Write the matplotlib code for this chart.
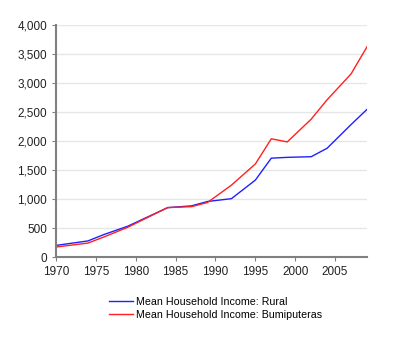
import matplotlib
matplotlib.use('Agg')
import matplotlib.pyplot as plt
from matplotlib.ticker import FuncFormatter

plt.rcParams['font.family'] = ['Liberation Sans', 'DejaVu Sans']

years = [1970, 1974, 1976, 1979, 1984, 1987, 1989, 1992, 1995, 1997, 1999, 2002, 2004, 2007, 2009]
rural = [200, 277, 387, 531, 851, 882, 957, 1006, 1326, 1704, 1718, 1729, 1875, 2283, 2545]
bumi = [172, 240, 345, 513, 852, 868, 940, 1239, 1604, 2038, 1984, 2376, 2711, 3156, 3624]

fig = plt.figure(figsize=(4, 3.42), dpi=100)
ax = fig.add_axes([0.14, 0.2485, 0.7775, 0.6785])

ax.plot(years, rural, color='#2020ff', lw=1, label='Mean Household Income: Rural')
ax.plot(years, bumi, color='#ff2020', lw=1, label='Mean Household Income: Bumiputeras')

ax.set_xlim(1970, 2009)
ax.set_ylim(0, 4000)
ax.set_xticks(range(1970, 2009, 5))
ax.set_yticks(range(0, 4001, 500))
ax.yaxis.set_major_formatter(FuncFormatter(lambda v, p: f'{int(v):,}'))
ax.grid(axis='y', color='#e6e6e6', lw=1)
ax.set_axisbelow(True)
for s in ['top', 'right']:
    ax.spines[s].set_visible(False)
for s in ['left', 'bottom']:
    ax.spines[s].set_color('#808080')
    ax.spines[s].set_linewidth(1.5)
ax.tick_params(labelsize=8.5, colors='#808080', labelcolor='#222222', length=3)

fig.legend(loc='upper left', bbox_to_anchor=(0.262, 0.145), frameon=False,
           fontsize=7.7, handlelength=2.2, labelspacing=0.3, borderaxespad=0, handletextpad=0.3)

plt.savefig('out.png', dpi=100)
